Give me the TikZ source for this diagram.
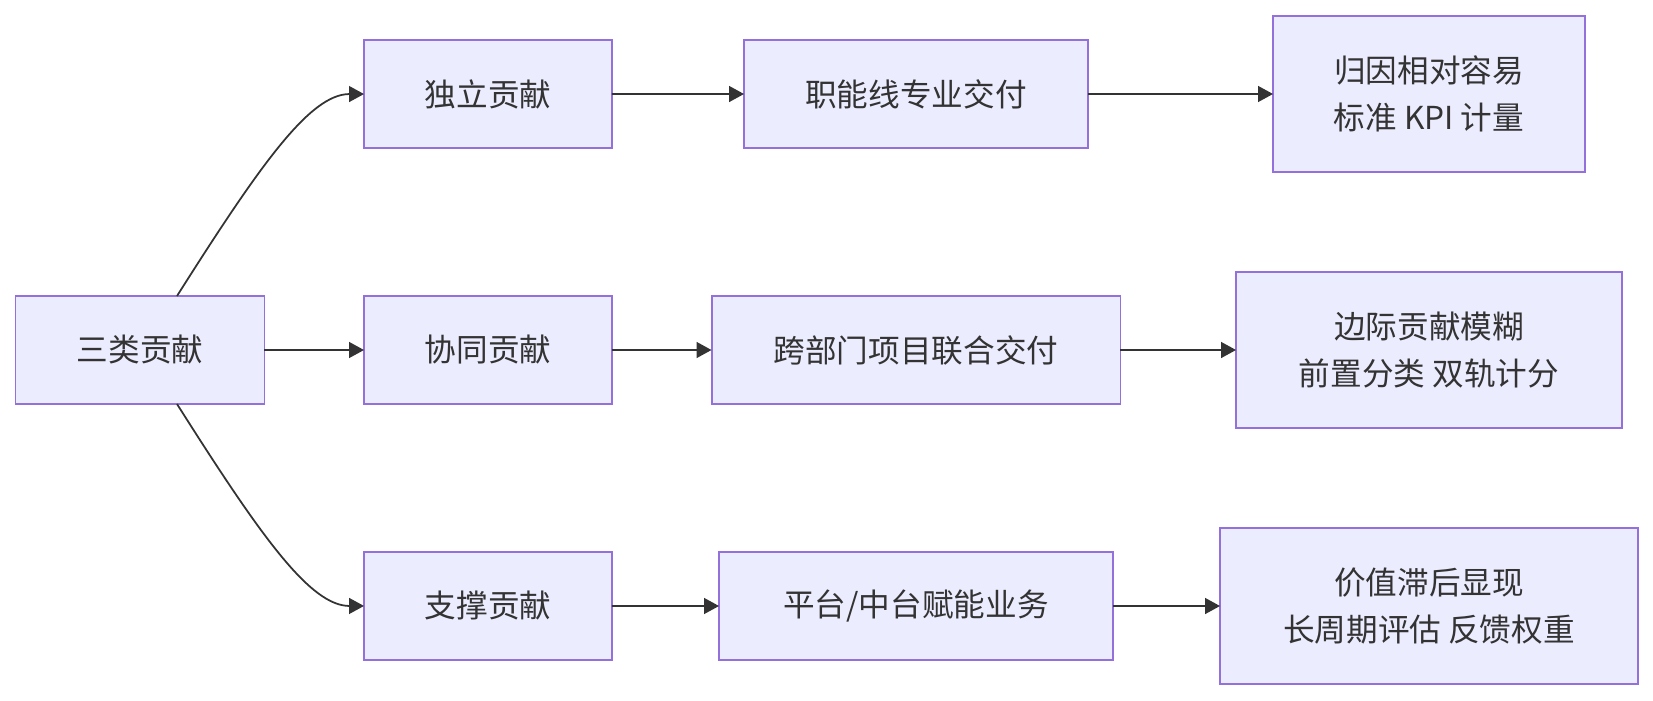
\documentclass[tikz,border=0pt]{standalone}
\usepackage{fontspec}
\usepackage{xcolor}
\usepackage{tikz}
\usetikzlibrary{arrows.meta,positioning}
\newfontfamily\cjk{Noto Sans CJK SC}
\definecolor{boxfill}{HTML}{ECECFF}
\definecolor{boxline}{HTML}{9370DB}
\definecolor{ink}{HTML}{333333}

\begin{document}
\begin{tikzpicture}[
    x=0.02cm, y=-0.02cm,
    >={Triangle[length=8.5pt,width=9pt]},
    node distance=2.96cm,
    box/.style={rectangle, draw=boxline, fill=boxfill, line width=1.1pt, inner sep=0pt, outer sep=0pt, minimum height=2.16cm, align=center, text=ink, font=\cjk\fontsize{18}{26.7}\selectfont},
    result/.style={box, minimum height=3.12cm},
    link/.style={->, draw=ink, line width=1pt},
]
\useasboundingbox (0,0) rectangle (1653,700);

% Root
\node[box, minimum width=4.98cm] (root) at (140,350) {三类贡献};

% Contribution types
\node[box, minimum width=4.96cm] (collab) at (488,350) {协同贡献};
\node[box, minimum width=4.96cm, above=of collab] (indep) {独立贡献};
\node[box, minimum width=4.96cm, below=of collab] (support) {支撑贡献};

% Delivery
\node[box, minimum width=6.88cm] (funcline) at (916,94) {职能线专业交付};
\node[box, minimum width=8.18cm] (crossdept) at (916,350) {跨部门项目联合交付};
\node[box, minimum width=7.88cm] (platform) at (916,606) {平台/中台赋能业务};

% Measurement
\node[result, minimum width=6.24cm] (easy) at (1429,94) {归因相对容易\\标准 KPI 计量};
\node[result, minimum width=7.72cm] (fuzzy) at (1429,350) {边际贡献模糊\\前置分类 双轨计分};
\node[result, minimum width=8.36cm] (delayed) at (1429,606) {价值滞后显现\\长周期评估 反馈权重};

% Arrows
\draw[link] ([xshift=0.74cm]root.north) .. controls (260,165) and (310,94) .. (indep.west);
\draw[link] (root.east) -- (collab.west);
\draw[link] ([xshift=0.74cm]root.south) .. controls (260,535) and (310,606) .. (support.west);
\draw[link] (indep.east) -- (funcline.west);
\draw[link] (collab.east) -- (crossdept.west);
\draw[link] (support.east) -- (platform.west);
\draw[link] (funcline.east) -- (easy.west);
\draw[link] (crossdept.east) -- (fuzzy.west);
\draw[link] (platform.east) -- (delayed.west);

\end{tikzpicture}
\end{document}
